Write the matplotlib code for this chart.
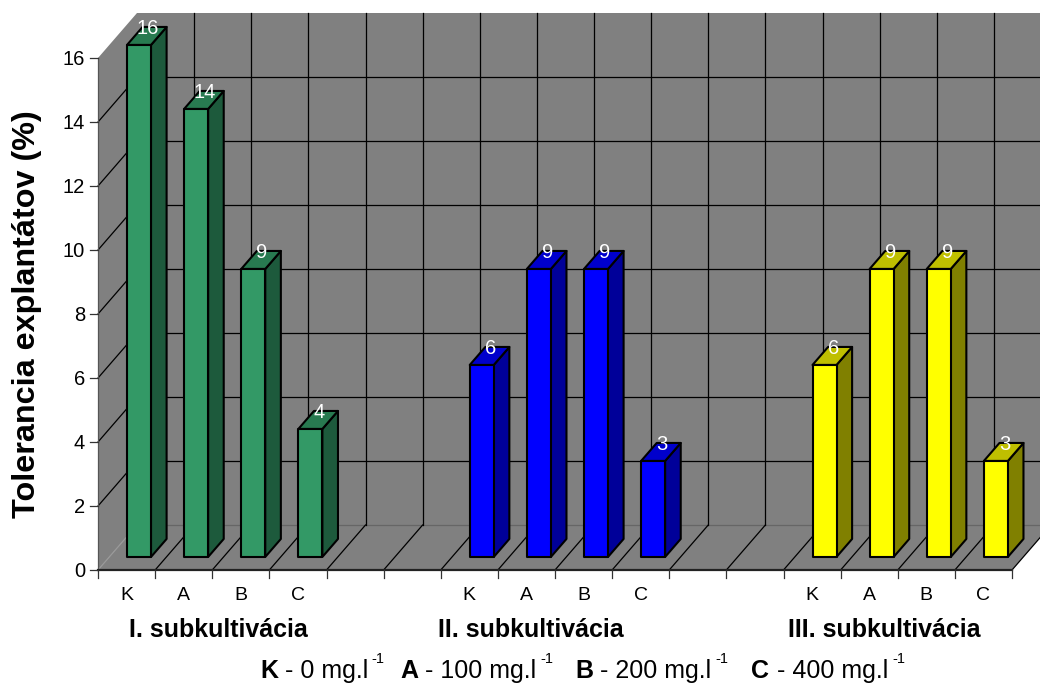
#!/usr/bin/env python
# coding: utf-8

import matplotlib
matplotlib.use('Agg')
import matplotlib.pyplot as plt
from matplotlib.patches import Polygon

plt.rcParams['font.family'] = ['Liberation Sans', 'DejaVu Sans']

# one group of four media per subculture, two empty slots between groups
slot_labels = ['K', 'A', 'B', 'C', '', '', 'K', 'A', 'B', 'C', '', '', 'K', 'A', 'B', 'C']
slot_values = [16, 14, 9, 4, None, None, 6, 9, 9, 3, None, None, 6, 9, 9, 3]
y_ticks = [0, 2, 4, 6, 8, 10, 12, 14, 16]
group_titles = ['I. subkultivácia', 'II. subkultivácia', 'III. subkultivácia']
group_centers = [2.1, 7.58, 13.76]
y_title = 'Tolerancia explantátov (%)'

face_colors = ['#339966'] * 6 + ['#0000FF'] * 6 + ['#FFFF00'] * 4
side_colors = ['#1D5A3C'] * 6 + ['#000099'] * 6 + ['#808000'] * 4
top_colors = ['#287A50'] * 6 + ['#0000CC'] * 6 + ['#BFBF00'] * 4

WALL = '#808080'
N_SLOTS = len(slot_labels)
Y_MAX = 16

# shear of the fake 3D box, in slots and value units
DEPTH_X = 39 / 57.125
DEPTH_Y = 45 / 32.0
BAR_W = 24 / 57.125
BAR_PAD = 29 / 57.125
D_FRONT = 0.29
D_BACK = 0.69


def proj(x, y, d=0.0):
    return (x + d * DEPTH_X, y + d * DEPTH_Y)


fig = plt.figure(figsize=(10.4, 6.83), dpi=100)
ax = fig.add_axes([0, 0, 1, 1])
ax.set_xlim(-98 / 57.125, (1040 - 98) / 57.125)
ax.set_ylim((570 - 683) / 32.0, 570 / 32.0)
ax.axis('off')

# walls and floor
ax.add_patch(Polygon([proj(0, 0, 1), proj(N_SLOTS, 0, 1), proj(N_SLOTS, Y_MAX, 1), proj(0, Y_MAX, 1)],
                     fc=WALL, ec='none', zorder=1))
ax.add_patch(Polygon([proj(0, 0), proj(0, 0, 1), proj(0, Y_MAX, 1), proj(0, Y_MAX)],
                     fc=WALL, ec='none', zorder=1))
ax.add_patch(Polygon([proj(0, 0), proj(N_SLOTS, 0), proj(N_SLOTS, 0, 1), proj(0, 0, 1)],
                     fc=WALL, ec='none', zorder=1))

# grid on the walls
for v in y_ticks:
    col = '#666666' if v == 0 else 'black'
    if v != Y_MAX:
        xs, ys = zip(proj(0, v, 1), proj(N_SLOTS, v, 1))
        ax.plot(xs, ys, color=col, lw=0.9, zorder=2)
    if v != 0 and v != Y_MAX:
        xs, ys = zip(proj(0, v), proj(0, v, 1))
        ax.plot(xs, ys, color='black', lw=0.9, zorder=2)
for i in range(N_SLOTS + 1):
    if i > 0:
        xs, ys = zip(proj(i, 0, 1), proj(i, Y_MAX, 1))
        ax.plot(xs, ys, color='black', lw=0.9, zorder=2)
    xs, ys = zip(proj(i, 0), proj(i, 0, 1))
    ax.plot(xs, ys, color='#999999' if i == 0 else 'black', lw=0.9, zorder=2)

# axis lines and ticks
ax.plot([0, 0], [0, Y_MAX], color='#555555', lw=0.9, zorder=2)
ax.plot([0, N_SLOTS], [0, 0], color='#222222', lw=1.6, zorder=2)
for v in y_ticks:
    ax.plot([-8 / 57.125, 0], [v, v], color='#333333', lw=0.9, zorder=2)
    ax.text(-13 / 57.125, v - 1.5 / 32.0, str(v), ha='right', va='center', fontsize=14.5, color='black')
for i in range(N_SLOTS + 1):
    ax.plot([i, i], [0, -8 / 32.0], color='#333333', lw=0.9, zorder=2)

# bars, left to right
for i, (lab, val) in enumerate(zip(slot_labels, slot_values)):
    if lab:
        ax.text(i + 0.5, -25.5 / 32.0, lab, ha='center', va='center', fontsize=14, color='black')
    if val is None:
        continue
    x0 = i + BAR_PAD - D_FRONT * DEPTH_X
    x1 = x0 + BAR_W
    front = [proj(x0, 0, D_FRONT), proj(x1, 0, D_FRONT), proj(x1, val, D_FRONT), proj(x0, val, D_FRONT)]
    side = [proj(x1, 0, D_FRONT), proj(x1, 0, D_BACK), proj(x1, val, D_BACK), proj(x1, val, D_FRONT)]
    top = [proj(x0, val, D_FRONT), proj(x1, val, D_FRONT), proj(x1, val, D_BACK), proj(x0, val, D_BACK)]
    ax.add_patch(Polygon(side, fc=side_colors[i], ec='black', lw=1.5, joinstyle='round', zorder=3))
    ax.add_patch(Polygon(top, fc=top_colors[i], ec='black', lw=1.5, joinstyle='round', zorder=3))
    ax.add_patch(Polygon(front, fc=face_colors[i], ec='black', lw=1.5, joinstyle='round', zorder=4))
    tx, ty = proj((x0 + x1) / 2, val, (D_FRONT + D_BACK) / 2)
    ax.text(tx + 1 / 57.125, ty + 7 / 32.0, str(val), ha='center', va='center', fontsize=14.5, color='white', zorder=5)

for name, cx in zip(group_titles, group_centers):
    ax.text(cx, -60 / 32.0, name, ha='center', va='center', fontsize=18, fontweight='bold')

fig.text(27 / 1040, 1 - 314 / 683, y_title, rotation=90, ha='center', va='center',
         fontsize=23.3, fontweight='bold')

# dose legend under the chart, pieces placed in pixels
legend_parts = [
    (260, 'K', 'bold'), (278, ' - 0 mg.l', 'normal'),
    (400, 'A', 'bold'), (418, ' - 100 mg.l', 'normal'),
    (575, 'B', 'bold'), (593, ' - 200 mg.l', 'normal'),
    (751, 'C', 'bold'), (770, ' - 400 mg.l', 'normal'),
]
for px, s, weight in legend_parts:
    fig.text(px / 1040, 1 - 678 / 683, s, fontweight=weight, fontsize=18, ha='left', va='baseline')
for px in [371, 540, 715, 892]:
    fig.text(px / 1040, 1 - 663 / 683, '-1', fontsize=10.5, ha='left', va='baseline')

fig.savefig('out.png', dpi=100)
